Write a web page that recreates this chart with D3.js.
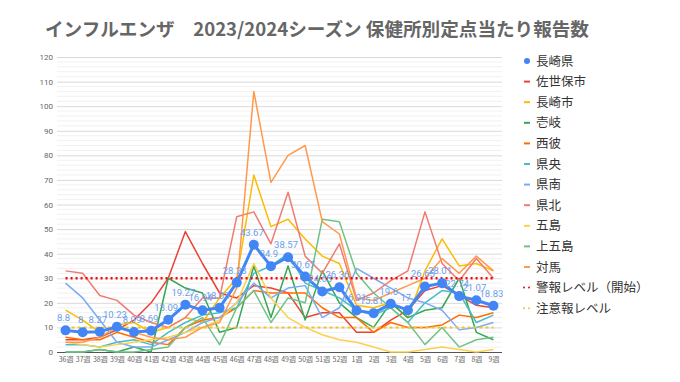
<!DOCTYPE html>
<html><head><meta charset="utf-8">
<script src="https://cdn.jsdelivr.net/npm/d3@7/dist/d3.min.js"></script>
<style>body{margin:0;background:#fff}svg{display:block}</style>
</head><body>
<svg id="c" width="680" height="382"></svg>
<script>
const weeks = ["36週","37週","38週","39週","40週","41週","42週","43週","44週","45週","46週","47週","48週","49週","50週","51週","52週","1週","2週","3週","4週","5週","6週","7週","8週","9週"];
const yTicks = [0,10,20,30,40,50,60,70,80,90,100,110,120];
const nagasakiKen = [8.8, 8, 8.27, 10.23, 8.09, 8.69, 13.09, 19.27, 16.94, 18.03, 28.23, 43.67, 34.9, 38.57, 30.67, 24.63, 26.36, 16.91, 15.81, 19.6, 17, 26.65, 28.01, 22.74, 21.07, 18.83];
const sasebo = [5, 5, 6, 9, 13, 20, 30, 49, 36, 24, 22, 27, 26, 24, 14, 16, 16, 8, 8, 13, 17, 25, 27, 23, 19, 18];
const nagasakiShi = [17, 13, 8, 11, 12, 8, 10, 14, 12, 22, 30, 72, 51, 54, 46, 39, 36, 19, 18, 20, 14, 33, 46, 35, 36, 33];
const iki = [0, 0, 1, 0, 2, 0, 30, 26, 24, 8, 10, 35, 14, 35, 13, 33, 20, 14, 10, 20, 14, 17, 18, 30, 8, 5];
const seihi = [6, 5, 5, 8, 6, 4, 3, 10, 13, 14, 18, 25, 24, 24, 24, 18, 14, 14, 8, 12, 10, 10, 11, 15, 14, 16];
const kenou = [3, 3, 2, 4, 5, 3, 8, 12, 15, 16, 18, 32, 35, 40, 28, 25, 22, 17, 15, 18, 12, 20, 25, 24, 12, 15];
const kennan = [28, 22, 13, 4, 2, 2, 5, 8, 12, 14, 20, 28, 22, 26, 27, 14, 18, 34, 30, 26, 22, 20, 17, 9, 10, 12];
const kenhoku = [33, 32, 23, 21, 15, 12, 10, 14, 22, 22, 55, 57, 44, 65, 39, 32, 44, 21, 24, 29, 33, 57, 36, 29, 38, 30];
const goto = [4, 3, 2, 3, 4, 5, 6, 8, 10, 13, 20, 36, 22, 14, 10, 7, 5, 4, 2, 0, 0, 1, 2, 1, 0, 1];
const kamigoto = [0, 0, 1, 0, 0, 1, 2, 10, 14, 3, 18, 25, 12, 22, 20, 54, 53, 32, 24, 18, 12, 3, 10, 2, 5, 6];
const tsushima = [4, 4, 6, 10, 8, 6, 5, 6, 10, 12, 26, 106, 69, 80, 84, 53, 48, 22, 21, 24, 27, 30, 38, 32, 39, 33];
const levelNames = ["警報レベル（開始）", "注意報レベル"];
const levelValues = [30, 10];

const seriesNames = ["佐世保市","長崎市","壱岐","西彼","県央","県南","県北","五島","上五島","対馬"];
const seriesData = [sasebo, nagasakiShi, iki, seihi, kenou, kennan, kenhoku, goto, kamigoto, tsushima];
const seriesColors = ["#EA4335","#FBBC04","#34A853","#FF6D01","#46BDC6","#7BAAF7","#F07B72","#FCD04F","#71C287","#FF994D"];
const levelColors = ["#FF0000","#F1C232"];

const svg = d3.select("#c");
const x = d3.scalePoint().domain(weeks).range([57, 502]).padding(0.5);
const y = d3.scaleLinear().domain([0, 120]).range([352, 57]);

svg.append("text").attr("x", 45).attr("y", 36)
  .attr("font-family", "'Noto Sans CJK JP', sans-serif").attr("font-weight", "bold")
  .attr("font-size", 18.6).attr("fill", "#666")
  .text("インフルエンザ　2023/2024シーズン 保健所別定点当たり報告数");

const g = svg.append("g");
g.selectAll("line.minor").data(d3.range(0, 121, 2).filter(v => v % 10 !== 0)).join("line")
  .attr("x1", 57).attr("x2", 502).attr("y1", d => y(d)).attr("y2", d => y(d))
  .attr("stroke", "#f1f1f1").attr("stroke-width", 1);
const yAxis = svg.append("g").attr("transform", "translate(57,0)")
  .call(d3.axisLeft(y).tickValues(yTicks).tickSize(-445).tickPadding(4));
yAxis.select(".domain").remove();
yAxis.selectAll(".tick line").attr("stroke", d => d === 0 ? "#555" : "#d9d9d9");
yAxis.selectAll("text").attr("font-family", "Roboto, sans-serif").attr("font-size", 8).attr("fill", "#666");

const xAxis = svg.append("g").attr("transform", "translate(0,352)")
  .call(d3.axisBottom(x).tickSize(0).tickPadding(5));
xAxis.select(".domain").remove();
xAxis.selectAll("text").attr("font-family", "'Noto Sans CJK JP', sans-serif").attr("font-size", 7).attr("fill", "#666");

const line = d3.line().x((d, i) => x(weeks[i])).y(d => y(d));

seriesData.forEach((s, k) => {
  svg.append("path").datum(s).attr("d", line).attr("fill", "none")
    .attr("stroke", seriesColors[k]).attr("stroke-width", 1.5).attr("stroke-linejoin", "round");
});

levelValues.forEach((v, k) => {
  svg.append("path").datum(weeks.map(() => v)).attr("d", line).attr("fill", "none")
    .attr("stroke", levelColors[k]).attr("stroke-width", k === 0 ? 2.5 : 2)
    .attr("stroke-dasharray", k === 0 ? "2,3" : "3,3");
});

svg.append("path").datum(nagasakiKen).attr("d", line).attr("fill", "none")
  .attr("stroke", "#4285F4").attr("stroke-width", 3).attr("stroke-linejoin", "round");
svg.selectAll("circle.pt").data(nagasakiKen).join("circle")
  .attr("cx", (d, i) => x(weeks[i])).attr("cy", d => y(d)).attr("r", 5).attr("fill", "#4285F4");
svg.selectAll("text.lbl").data(nagasakiKen).join("text")
  .attr("x", (d, i) => x(weeks[i]) - 2).attr("y", d => y(d) - 9)
  .attr("text-anchor", "middle").attr("font-family", "Roboto, sans-serif").attr("font-size", 9.5)
  .attr("fill", "#6d9eeb").text(d => d);

const legNames = ["長崎県"].concat(seriesNames, levelNames);
const legColors = ["#4285F4"].concat(seriesColors, levelColors);
const lg = svg.append("g");
legNames.forEach((n, i) => {
  const yy = 61 + i * 20.6;
  if (i === 0) {
    lg.append("circle").attr("cx", 527).attr("cy", yy).attr("r", 3).attr("fill", legColors[i]);
  } else if (i >= legNames.length - 2) {
    [524, 529].forEach(cx => lg.append("circle").attr("cx", cx).attr("cy", yy).attr("r", 1).attr("fill", legColors[i]));
  } else {
    lg.append("line").attr("x1", 524).attr("x2", 530).attr("y1", yy).attr("y2", yy)
      .attr("stroke", legColors[i]).attr("stroke-width", 2);
  }
  lg.append("text").attr("x", 536).attr("y", yy + 4.5).attr("font-family", "'Noto Sans CJK JP', sans-serif")
    .attr("font-size", 12.5).attr("fill", "#333").text(n);
});
</script>
</body></html>
